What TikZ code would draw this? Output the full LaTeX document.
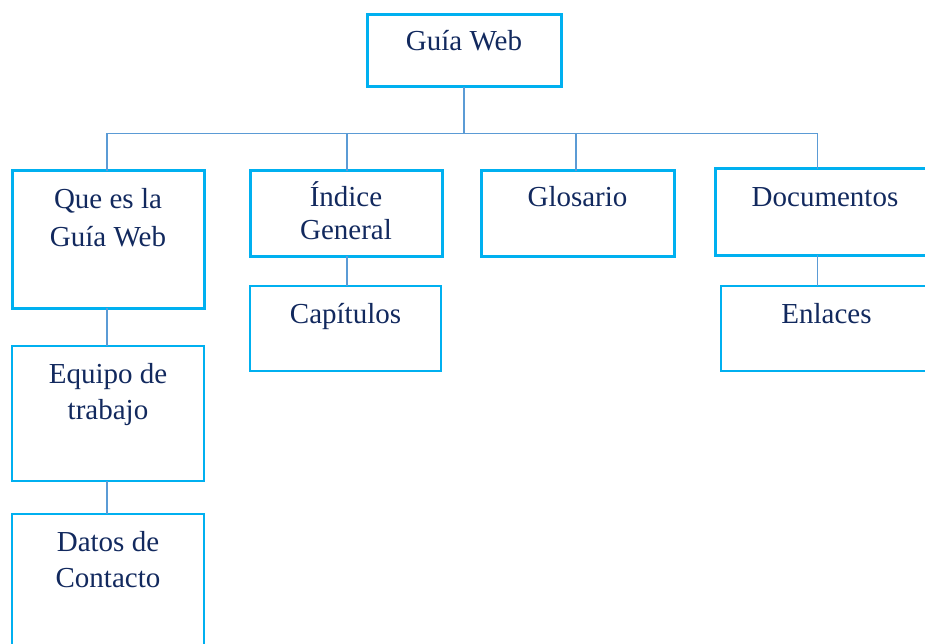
\documentclass[tikz,border=0pt]{standalone}
\usepackage{fontspec}
\setmainfont{Liberation Serif}
\definecolor{boxblue}{HTML}{00B0F0}
\definecolor{linkblue}{HTML}{5B9BD5}
\definecolor{inkblue}{HTML}{12295E}
\begin{document}
\begin{tikzpicture}[x=1pt,y=-1pt,
  mainbox/.style={draw=boxblue, line width=3pt, rectangle, inner sep=0pt, outer sep=0pt},
  subbox/.style={draw=boxblue, line width=1.5pt, rectangle, inner sep=0pt, outer sep=0pt},
  conn/.style={draw=linkblue, line width=1.2pt},
  lbl/.style={anchor=base, text=inkblue, inner sep=0pt, font=\fontsize{29pt}{38pt}\selectfont}]
\useasboundingbox (0,0) rectangle (925,644);

% boxes
\node[mainbox, minimum width=194pt, minimum height=72pt]  (guia)   at (464,51)    {};
\node[mainbox, minimum width=192pt, minimum height=137pt] (que)    at (108,239.5) {};
\node[mainbox, minimum width=192pt, minimum height=85pt]  (indice) at (346,213.5) {};
\node[mainbox, minimum width=193pt, minimum height=85pt]  (glos)   at (577.5,213.5) {};
\node[mainbox, minimum width=220pt, minimum height=86pt]  (docs)   at (825,212)   {};
\node[subbox,  minimum width=191pt, minimum height=85pt]  (cap)    at (345.5,328.5) {};
\node[subbox,  minimum width=192pt, minimum height=135pt] (equipo) at (108,413.5) {};
\node[subbox,  minimum width=192pt, minimum height=136pt] (datos)  at (108,582)   {};
\node[subbox,  minimum width=211pt, minimum height=85pt]  (enl)    at (826.5,328.5) {};

% labels
\node[lbl] (tguia) at ([yshift=-36pt]guia.north) {Guía Web};
\node[lbl] (tque1) at ([yshift=-37pt]que.north) {Que es la};
\node[lbl] (tque2) at ([yshift=-75pt]que.north) {Guía Web};
\node[lbl] (tind1) at ([yshift=-36pt]indice.north) {Índice};
\node[lbl] (tind2) at ([yshift=-69pt]indice.north) {General};
\node[lbl] (tglos) at ([yshift=-36pt]glos.north) {Glosario};
\node[lbl] (tdocs) at ([yshift=-38pt]docs.north) {Documentos};
\node[lbl] (tcap)  at ([yshift=-37pt]cap.north) {Capítulos};
\node[lbl] (teq1)  at ([yshift=-37pt]equipo.north) {Equipo de};
\node[lbl] (teq2)  at ([yshift=-73pt]equipo.north) {trabajo};
\node[lbl] (tdat1) at ([yshift=-37pt]datos.north) {Datos de};
\node[lbl] (tdat2) at ([yshift=-73pt]datos.north) {Contacto};
\node[lbl] (tenl)  at ([yshift=-37pt]enl.north) {Enlaces};

% connector bus and drops
\coordinate (bus) at (0,133.5);
\coordinate (dj) at (817.5,0);
\coordinate (ij) at (347,0);
\coordinate (gj) at (576,0);
\coordinate (qj) at (107,0);
\draw[conn] (guia.south) -- (guia.south |- bus);
\draw[conn] (qj |- bus) -- (dj |- bus);
\draw[conn] (qj |- bus) -- (qj |- que.north);
\draw[conn] (ij |- bus) -- (ij |- indice.north);
\draw[conn] (gj |- bus) -- (gj |- glos.north);
\draw[conn] (dj |- bus) -- (dj |- docs.north);
\draw[conn] (qj |- que.south) -- (qj |- equipo.north);
\draw[conn] (qj |- equipo.south) -- (qj |- datos.north);
\draw[conn] (ij |- indice.south) -- (ij |- cap.north);
\draw[conn] (dj |- docs.south) -- (dj |- enl.north);
\end{tikzpicture}
\end{document}
